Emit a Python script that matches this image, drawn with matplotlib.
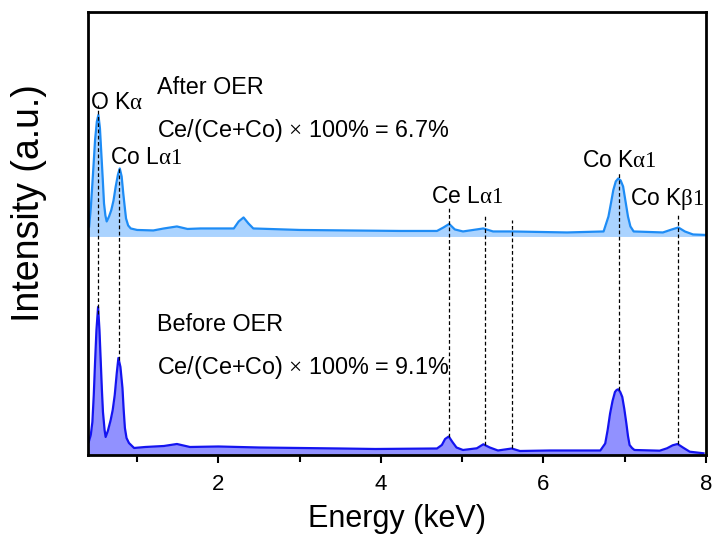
import numpy as np
import matplotlib
matplotlib.use("Agg")
import matplotlib.pyplot as plt
from matplotlib.ticker import MultipleLocator

plt.rcParams['font.family'] = ['Liberation Sans', 'DejaVu Sans']
plt.rcParams['mathtext.fontset'] = 'custom'
plt.rcParams['mathtext.rm'] = 'Liberation Serif'
plt.rcParams['mathtext.it'] = 'Liberation Serif:italic'

# spectrum before OER (energy in keV, intensity in a.u.)
e_before = [0.405, 0.43, 0.45, 0.467, 0.483, 0.50, 0.52, 0.537, 0.553, 0.567,
            0.58, 0.60, 0.613, 0.64, 0.675, 0.70, 0.725, 0.75, 0.77, 0.795,
            0.82, 0.835, 0.85, 0.87, 0.90, 0.963, 1.10, 1.33, 1.49, 1.65,
            2.0, 2.5, 3.0, 3.5, 3.93, 4.69, 4.75, 4.79, 4.835, 4.88, 4.93,
            5.01, 5.18, 5.26, 5.34, 5.44, 5.61, 5.71, 6.08, 6.70, 6.76, 6.79,
            6.82, 6.85, 6.88, 6.90, 6.92, 6.945, 6.97, 6.995, 7.02, 7.04, 7.06,
            7.09, 7.12, 7.43, 7.52, 7.59, 7.65, 7.72, 7.80, 7.97]
i_before = [13, 20, 33, 60, 93, 125, 148, 125, 93, 65,
            43, 25, 18, 24, 35, 45, 60, 82, 97, 88,
            67, 45, 27, 17, 12, 7, 8, 9, 11, 8,
            8.5, 7.5, 7, 6.5, 6, 6.5, 10, 16, 18.5, 13, 7.5,
            5, 6.7, 10.7, 7.5, 4.5, 6.5, 4, 4.5, 4.5, 11.5, 25,
            41.5, 54, 63, 65, 65.7, 63, 58, 46, 31.7, 19, 10,
            7, 5, 4.3, 6.7, 9.7, 11, 7.3, 3.3, 1.7]

# spectrum after OER
e_after = [0.41, 0.43, 0.45, 0.467, 0.483, 0.505, 0.524, 0.543, 0.56, 0.577,
           0.593, 0.61, 0.626, 0.655, 0.683, 0.71, 0.737, 0.765, 0.787, 0.81,
           0.83, 0.85, 0.864, 0.89, 0.922, 1.0, 1.2, 1.33, 1.49, 1.62, 1.78,
           2.19, 2.25, 2.31, 2.37, 2.43, 3.0, 3.6, 4.24, 4.69, 4.77, 4.84,
           4.91, 5.01, 5.26, 5.38, 5.61, 6.29, 6.74, 6.80, 6.83, 6.86, 6.89,
           6.92, 6.95, 6.98, 7.01, 7.04, 7.07, 7.11, 7.47, 7.58, 7.66, 7.74,
           7.84, 8.0]
i_after = [10, 28, 53, 75, 96.5, 115, 121.5, 108, 83, 58,
           33, 21, 15, 20, 26.5, 36, 50, 62, 68, 60,
           43, 28, 18, 11, 8, 6.5, 6, 8, 10, 7.5, 8,
           8, 15, 19, 13, 8, 6.5, 6, 5.5, 5.5, 9, 12.5,
           7, 5, 8, 5, 5, 4, 5, 20, 33, 46.5, 55,
           58, 56, 50, 35, 20, 10, 5, 4, 7, 9, 5,
           2, 1.5]
after_offset = 218.5

# peak markers
peak_e = [0.525, 0.776, 4.84, 5.28, 5.61, 6.93, 7.65]
peak_top = [350, 288, 247, 239, 235, 282, 240]

labels = [("O K$\\mathrm{\\alpha}$", 0.42, 352),
          ("Co L$\\mathrm{\\alpha 1}$", 0.67, 297),
          ("Ce L$\\mathrm{\\alpha 1}$", 4.62, 258),
          ("Co K$\\mathrm{\\alpha 1}$", 6.48, 294),
          ("Co K$\\mathrm{\\beta 1}$", 7.06, 256)]
notes = [("After OER", 1.25, 367),
         ("Ce/(Ce+Co) $\\times$ 100% = 6.7%", 1.25, 324),
         ("Before OER", 1.25, 130),
         ("Ce/(Ce+Co) $\\times$ 100% = 9.1%", 1.25, 87)]

fig = plt.figure(figsize=(7.15, 5.47), dpi=100)
ax = fig.add_axes([0.1224, 0.1682, 0.865, 0.81])

ib = np.array(i_before)
ia = np.array(i_after) + after_offset
ax.fill_between(e_before, 0, ib, color='#9191ff', lw=0)
ax.plot(e_before, ib, color='#1414f0', lw=1.6)
ax.fill_between(e_after, after_offset, ia, color='#aad3ff', lw=0)
ax.plot(e_after, ia, color='#1e8cf5', lw=1.6)

for e, top in zip(peak_e, peak_top):
    bottom = np.interp(e, e_before, ib)
    ax.plot([e, e], [bottom, top], color='black', lw=0.9,
            linestyle=(0, (3, 2)), zorder=3)

for txt, x, y in labels:
    ax.text(x, y, txt, fontsize=16.5, va='center', ha='left')
for txt, x, y in notes:
    ax.text(x, y, txt, fontsize=16.8, va='center', ha='left')

ax.set_xlim(0.39, 8)
ax.set_ylim(0, 443)
ax.set_yticks([])
ax.xaxis.set_major_locator(MultipleLocator(2))
ax.xaxis.set_minor_locator(MultipleLocator(1))
ax.tick_params(axis='x', which='major', direction='out', length=6, width=1.5,
               labelsize=16, pad=8)
ax.tick_params(axis='x', which='minor', direction='out', length=5, width=1.5)
for s in ax.spines.values():
    s.set_linewidth(2)

ax.set_xlabel("Energy (keV)", fontsize=22, labelpad=6)
ax.set_ylabel("Intensity (a.u.)", fontsize=27)
ax.yaxis.set_label_coords(-0.066, 0.569)

fig.savefig("out.png", dpi=100)
